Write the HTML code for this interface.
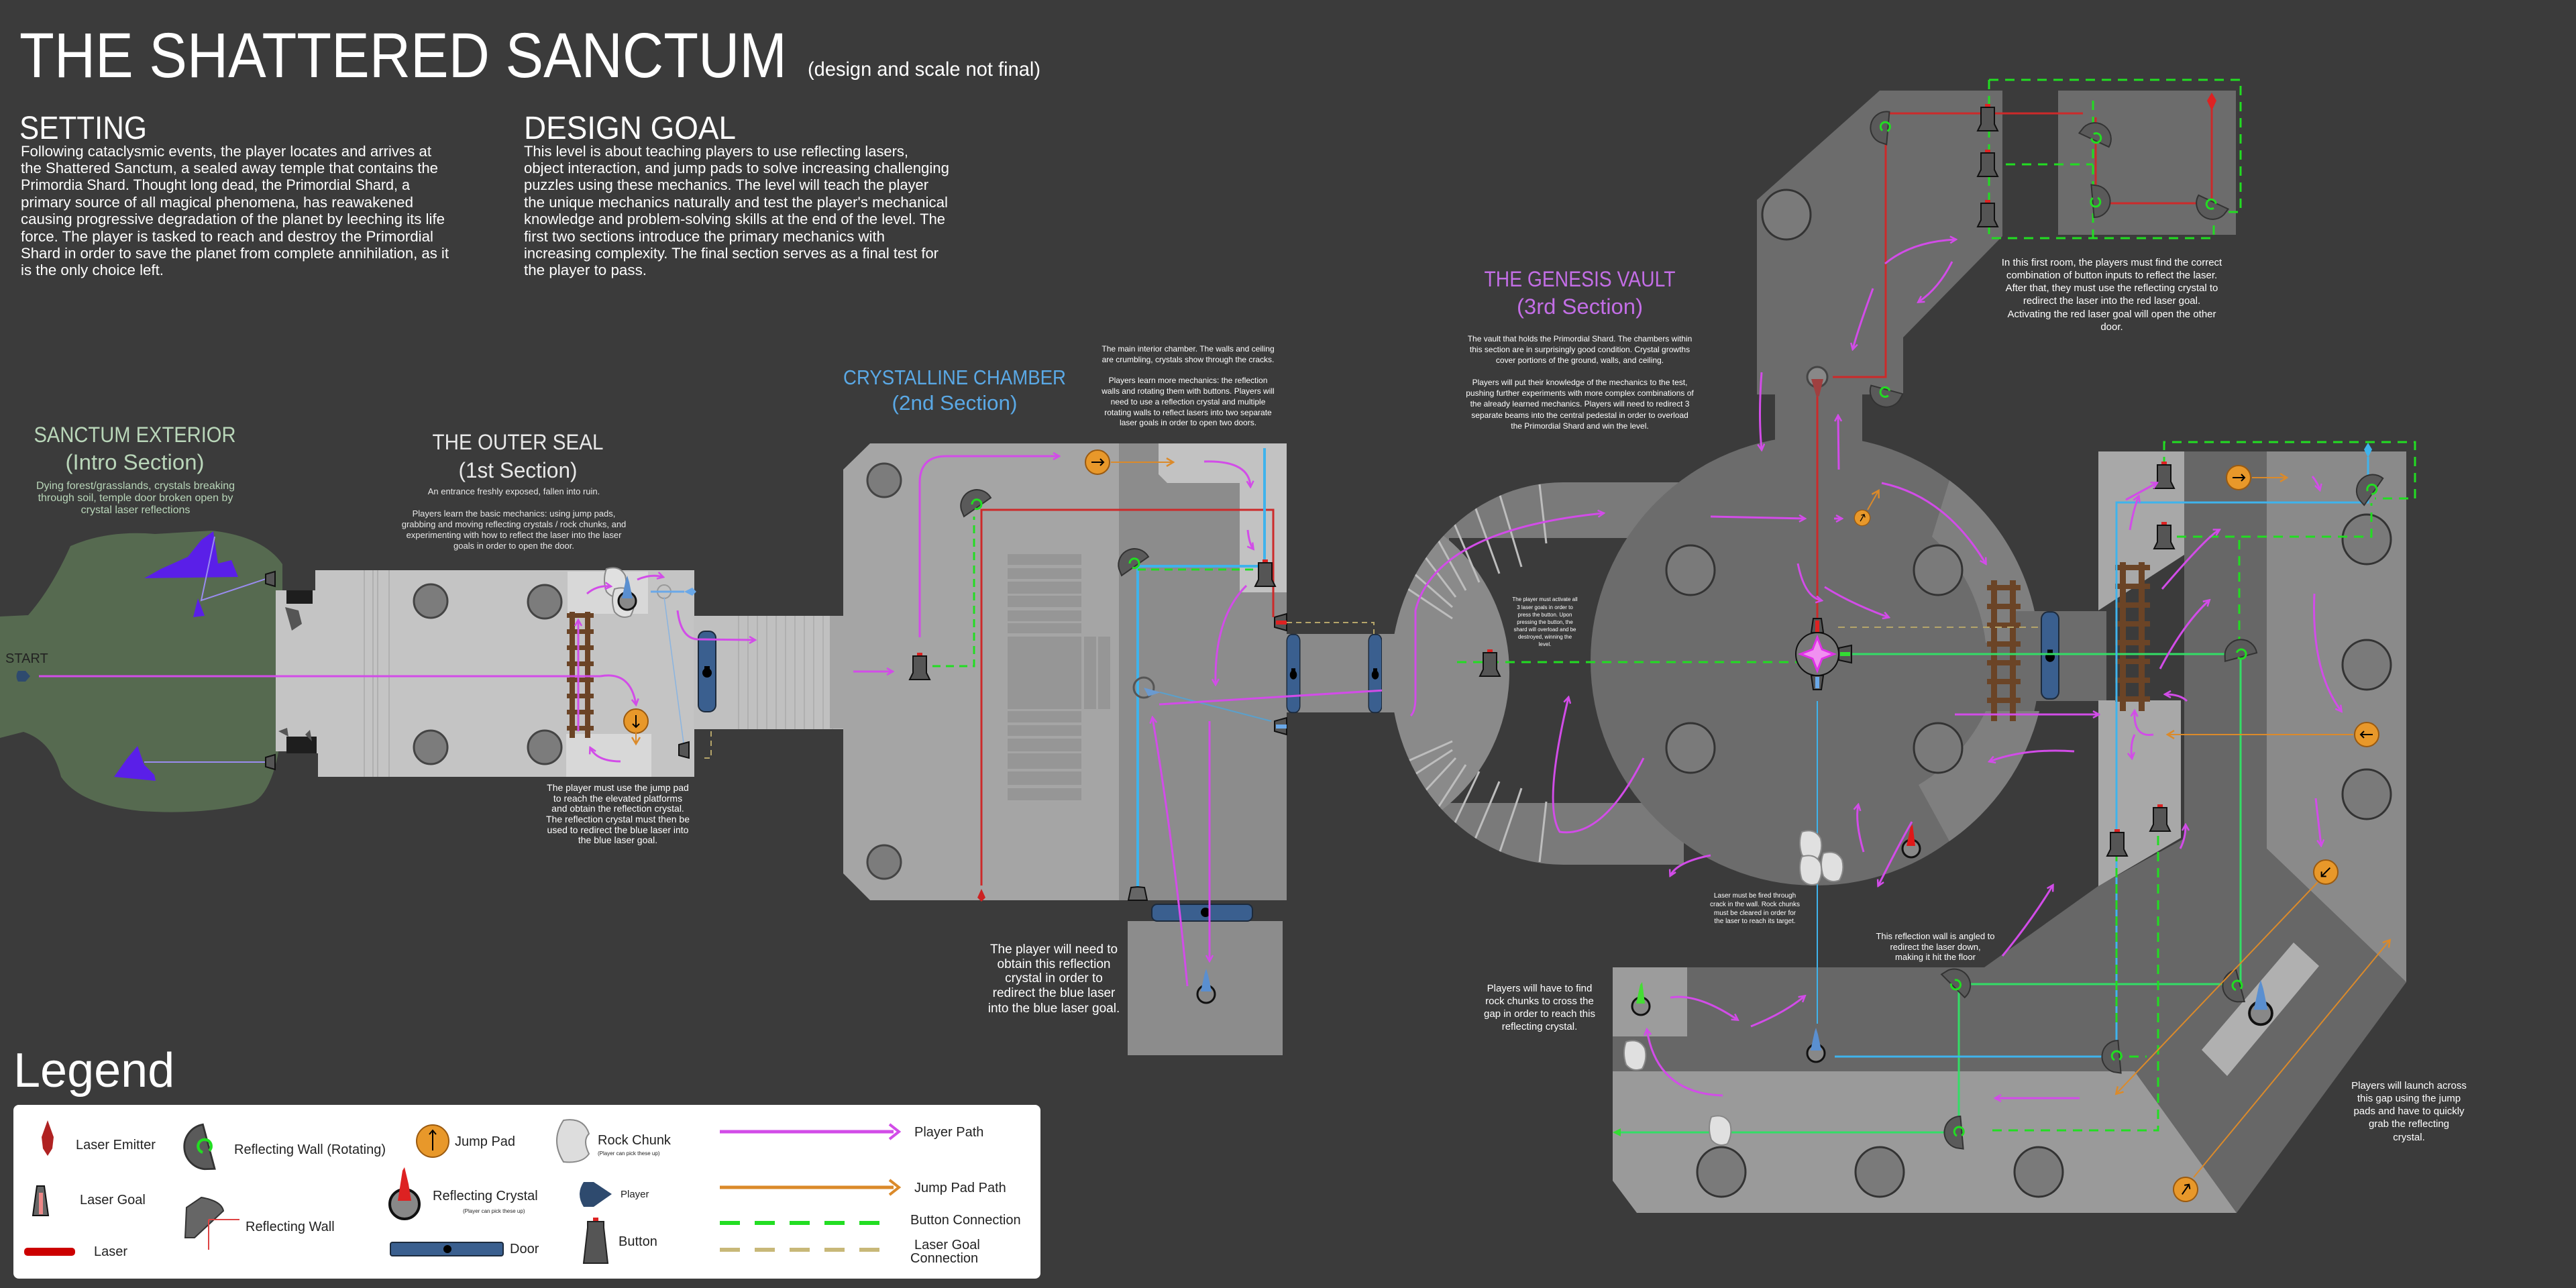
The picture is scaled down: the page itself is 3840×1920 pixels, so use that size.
<!DOCTYPE html>
<html><head><meta charset="utf-8">
<style>
html,body{margin:0;padding:0;background:#3b3b3b;}
svg{display:block;}
text{font-family:"Liberation Sans",sans-serif;}
</style></head>
<body>
<svg xmlns="http://www.w3.org/2000/svg" width="3840" height="1920" viewBox="0 0 3840 1920">
<defs>
<marker id="pa" markerWidth="12" markerHeight="12" refX="9" refY="6" orient="auto" markerUnits="userSpaceOnUse">
<path d="M1,1 L10,6 L1,11" fill="none" stroke="#d24ce8" stroke-width="2.5"/></marker>
<marker id="oa" markerWidth="14" markerHeight="14" refX="10" refY="7" orient="auto" markerUnits="userSpaceOnUse">
<path d="M1,1 L11,7 L1,13" fill="none" stroke="#db8a2a" stroke-width="2.5"/></marker>
<g id="btn"><rect x="-4" y="-22" width="8" height="5" fill="#d22"/><path d="M-10,-17 L10,-17 L10,8 L15,18 L-15,18 L-10,8 Z" fill="#555" stroke="#111" stroke-width="2"/></g>
<g id="door"><rect x="-13" y="-60" width="26" height="120" rx="10" fill="#3a5f8f" stroke="#1c2a3c" stroke-width="2"/><circle cx="0" cy="2" r="7" fill="#000"/><rect x="-4" y="-8" width="8" height="6" fill="#000"/></g>
<g id="jp"><circle r="18" fill="#e8982a" stroke="#9a5a10" stroke-width="2"/><path d="M-9,0 L9,0 M4,-5 L9,0 L4,5" stroke="#000" stroke-width="2" fill="none"/></g>
<g id="rw"><path d="M-22,8 A24,24 0 0 1 22,-10 L-18,18 Z" fill="#5a5a5a" stroke="#333" stroke-width="2"/><path d="M-6,0 a7,7 0 1 1 4,6" fill="none" stroke="#2d2" stroke-width="3"/></g>
<g id="rc"><circle cx="0" cy="8" r="13" fill="#888" stroke="#111" stroke-width="3"/><path d="M-8,4 L-2,-24 L0,-30 L3,-20 L8,4 Z" fill="#5a8fd0"/></g>
<g id="rock"><path d="M-14,-20 Q6,-26 14,-10 Q18,6 10,20 Q-4,26 -14,14 Q-20,-4 -14,-20 Z" fill="#e0e0e0" stroke="#888" stroke-width="2"/></g>
<g id="pil"><ellipse rx="25" ry="25" fill="#7c7c7c" stroke="#444" stroke-width="3"/></g>
<g id="pil2"><ellipse rx="36" ry="37" fill="#7a7a7a" stroke="#333" stroke-width="3"/></g>
<clipPath id="archclip"><path d="M2510,719 L2330,719 A257,285 0 0 0 2330,1289 L2510,1289 Z"/></clipPath>
</defs>

<rect width="3840" height="1920" fill="#3b3b3b"/>

<text x="29" y="115" font-size="95" fill="#fff" textLength="1144" lengthAdjust="spacingAndGlyphs">THE SHATTERED SANCTUM</text>
<text x="1204" y="113" font-size="30" fill="#fff" textLength="347" lengthAdjust="spacingAndGlyphs">(design and scale not final)</text>
<text x="29" y="207" font-size="48" fill="#fff" textLength="190" lengthAdjust="spacingAndGlyphs">SETTING</text>
<text x="781" y="207" font-size="48" fill="#fff" textLength="316" lengthAdjust="spacingAndGlyphs">DESIGN GOAL</text>
<g font-size="22" fill="#fff">
<text x="31" y="233" textLength="612" lengthAdjust="spacingAndGlyphs">Following cataclysmic events, the player locates and arrives at</text>
<text x="31" y="258" textLength="622" lengthAdjust="spacingAndGlyphs">the Shattered Sanctum, a sealed away temple that contains the</text>
<text x="31" y="283" textLength="580" lengthAdjust="spacingAndGlyphs">Primordia Shard. Thought long dead, the Primordial Shard, a</text>
<text x="31" y="309" textLength="585" lengthAdjust="spacingAndGlyphs">primary source of all magical phenomena, has reawakened</text>
<text x="31" y="334" textLength="632" lengthAdjust="spacingAndGlyphs">causing progressive degradation of the planet by leeching its life</text>
<text x="31" y="360" textLength="615" lengthAdjust="spacingAndGlyphs">force. The player is tasked to reach and destroy the Primordial</text>
<text x="31" y="385" textLength="638" lengthAdjust="spacingAndGlyphs">Shard in order to save the planet from complete annihilation, as it</text>
<text x="31" y="410" textLength="213" lengthAdjust="spacingAndGlyphs">is the only choice left.</text>
<text x="781" y="233" textLength="573" lengthAdjust="spacingAndGlyphs">This level is about teaching players to use reflecting lasers,</text>
<text x="781" y="258" textLength="634" lengthAdjust="spacingAndGlyphs">object interaction, and jump pads to solve increasing challenging</text>
<text x="781" y="283" textLength="603" lengthAdjust="spacingAndGlyphs">puzzles using these mechanics. The level will teach the player</text>
<text x="781" y="309" textLength="632" lengthAdjust="spacingAndGlyphs">the unique mechanics naturally and test the player's mechanical</text>
<text x="781" y="334" textLength="628" lengthAdjust="spacingAndGlyphs">knowledge and problem-solving skills at the end of the level. The</text>
<text x="781" y="360" textLength="538" lengthAdjust="spacingAndGlyphs">first two sections introduce the primary mechanics with</text>
<text x="781" y="385" textLength="618" lengthAdjust="spacingAndGlyphs">increasing complexity. The final section serves as a final test for</text>
<text x="781" y="410" textLength="183" lengthAdjust="spacingAndGlyphs">the player to pass.</text>
</g>

<g text-anchor="middle">
<text x="201" y="659" font-size="32" fill="#b9d6b9" textLength="301" lengthAdjust="spacingAndGlyphs">SANCTUM EXTERIOR</text>
<text x="201" y="700" font-size="32" fill="#b9d6b9" textLength="207" lengthAdjust="spacingAndGlyphs">(Intro Section)</text>
<g font-size="16" fill="#b9d6b9"><text x="202" y="729">Dying forest/grasslands, crystals breaking</text><text x="202" y="747">through soil, temple door broken open by</text><text x="202" y="765">crystal laser reflections</text></g>
<text x="772" y="670" font-size="32" fill="#e8e8e8" textLength="255" lengthAdjust="spacingAndGlyphs">THE OUTER SEAL</text>
<text x="772" y="712" font-size="32" fill="#e8e8e8" textLength="177" lengthAdjust="spacingAndGlyphs">(1st Section)</text>
<g font-size="13" fill="#e8e8e8"><text x="766" y="737">An entrance freshly exposed, fallen into ruin.</text>
<text x="766" y="770">Players learn the basic mechanics: using jump pads,</text><text x="766" y="786">grabbing and moving reflecting crystals / rock chunks, and</text><text x="766" y="802">experimenting with how to reflect the laser into the laser</text><text x="766" y="818">goals in order to open the door.</text></g>
<g font-size="14" fill="#fff"><text x="921" y="1179">The player must use the jump pad</text><text x="921" y="1195">to reach the elevated platforms</text><text x="921" y="1210">and obtain the reflection crystal.</text><text x="921" y="1226">The reflection crystal must then be</text><text x="921" y="1242">used to redirect the blue laser into</text><text x="921" y="1257">the blue laser goal.</text></g>
<text x="1423" y="573" font-size="31" fill="#5aa9e6" textLength="332" lengthAdjust="spacingAndGlyphs">CRYSTALLINE CHAMBER</text>
<text x="1423" y="611" font-size="31" fill="#5aa9e6" textLength="187" lengthAdjust="spacingAndGlyphs">(2nd Section)</text>
<g font-size="12" fill="#fff"><text x="1771" y="524">The main interior chamber. The walls and ceiling</text><text x="1771" y="540">are crumbling, crystals show through the cracks.</text><text x="1771" y="571">Players learn more mechanics: the reflection</text><text x="1771" y="587">walls and rotating them with buttons. Players will</text><text x="1771" y="603">need to use a reflection crystal and multiple</text><text x="1771" y="619">rotating walls to reflect lasers into two separate</text><text x="1771" y="634">laser goals in order to open two doors.</text></g>
<g font-size="19" fill="#fff"><text x="1571" y="1421">The player will need to</text><text x="1571" y="1443">obtain this reflection</text><text x="1571" y="1464">crystal in order to</text><text x="1571" y="1486">redirect the blue laser</text><text x="1571" y="1509">into the blue laser goal.</text></g>
<text x="2355" y="427" font-size="32" fill="#c36ee6" textLength="285" lengthAdjust="spacingAndGlyphs">THE GENESIS VAULT</text>
<text x="2355" y="468" font-size="32" fill="#c36ee6" textLength="188" lengthAdjust="spacingAndGlyphs">(3rd Section)</text>
<g font-size="12" fill="#fff"><text x="2355" y="509">The vault that holds the Primordial Shard. The chambers within</text><text x="2355" y="525">this section are in surprisingly good condition. Crystal growths</text><text x="2355" y="541">cover portions of the ground, walls, and ceiling.</text><text x="2355" y="574">Players will put their knowledge of the mechanics to the test,</text><text x="2355" y="590">pushing further experiments with more complex combinations of</text><text x="2355" y="606">the already learned mechanics. Players will need to redirect 3</text><text x="2355" y="623">separate beams into the central pedestal in order to overload</text><text x="2355" y="639">the Primordial Shard and win the level.</text></g>
<g font-size="15" fill="#fff"><text x="3148" y="396">In this first room, the players must find the correct</text><text x="3148" y="415">combination of button inputs to reflect the laser.</text><text x="3148" y="434">After that, they must use the reflecting crystal to</text><text x="3148" y="453">redirect the laser into the red laser goal.</text><text x="3148" y="473">Activating the red laser goal will open the other</text><text x="3148" y="492">door.</text></g>
</g>

<path d="M0,919 L42,917 Q77,877 105,814 Q160,790 231,796 L316,791 Q393,800 421,841 L421,1082 L414,1127 Q400,1190 372,1198 Q300,1215 210,1209 Q120,1200 91,1158 Q78,1105 35,1091 L0,1100 Z" fill="#566a50"/>
<g fill="#5a1fe8"><path d="M215,862 L240,848 L280,830 L300,805 L318,792 L325,840 L345,835 L355,860 Z"/><path d="M288,920 L295,892 L305,918 Z"/><path d="M170,1158 L190,1130 L205,1112 L215,1140 L230,1155 L232,1164 Z"/></g>
<path d="M320,800 L300,895 L405,860" fill="none" stroke="#9a8cf0" stroke-width="2"/>
<line x1="215" y1="1136" x2="405" y2="1136" stroke="#9a8cf0" stroke-width="2"/>
<text x="8" y="988" font-size="20" fill="#222">START</text>
<path d="M27,1000 L38,1000 L45,1008 L38,1016 L27,1016 Q22,1008 27,1000 Z" fill="#2e4a6e"/>

<rect x="411" y="880" width="60" height="240" fill="#c4c4c4"/>
<rect x="470" y="850" width="565" height="308" fill="#c4c4c4"/>
<rect x="422" y="850" width="48" height="30" fill="#3b3b3b"/><rect x="427" y="880" width="39" height="20" fill="#1e1e1e"/>
<rect x="422" y="1123" width="52" height="35" fill="#3b3b3b"/><rect x="427" y="1098" width="45" height="25" fill="#1e1e1e"/>
<g fill="#555"><path d="M425,905 L445,910 L450,930 L435,940 Z"/><path d="M415,1090 L428,1085 L430,1098 Z"/><path d="M455,1095 L462,1088 L465,1105 Z"/></g>
<g stroke="#b0b0b0" stroke-width="2"><line x1="543" y1="850" x2="543" y2="1158"/><line x1="556" y1="850" x2="556" y2="1158"/><line x1="563" y1="850" x2="563" y2="1158"/><line x1="580" y1="850" x2="580" y2="1158"/></g>
<rect x="846" y="852" width="120" height="63" fill="#d8d8d8"/><rect x="844" y="1094" width="127" height="64" fill="#d8d8d8"/>
<use href="#pil" x="642" y="896"/><use href="#pil" x="812" y="897"/><use href="#pil" x="642" y="1114"/><use href="#pil" x="812" y="1114"/>
<rect x="1034" y="918" width="223" height="169" fill="#c0c0c0"/>
<g stroke="#b0b0b0" stroke-width="2"><line x1="1101" y1="918" x2="1101" y2="1087"/><line x1="1115" y1="918" x2="1115" y2="1087"/><line x1="1129" y1="918" x2="1129" y2="1087"/><line x1="1143" y1="918" x2="1143" y2="1087"/><line x1="1157" y1="918" x2="1157" y2="1087"/><line x1="1171" y1="918" x2="1171" y2="1087"/><line x1="1185" y1="918" x2="1185" y2="1087"/><line x1="1199" y1="918" x2="1199" y2="1087"/><line x1="1213" y1="918" x2="1213" y2="1087"/><line x1="1227" y1="918" x2="1227" y2="1087"/><line x1="1241" y1="918" x2="1241" y2="1087"/></g>
<g fill="#6b4426"><rect x="849" y="912" width="8" height="188"/><rect x="872" y="912" width="8" height="188"/><rect x="845" y="914" width="40" height="7"/><rect x="845" y="938" width="40" height="7"/><rect x="845" y="962" width="40" height="7"/><rect x="845" y="986" width="40" height="7"/><rect x="845" y="1010" width="40" height="7"/><rect x="845" y="1034" width="40" height="7"/><rect x="845" y="1058" width="40" height="7"/><rect x="845" y="1082" width="40" height="7"/></g>
<use href="#door" x="1054" y="1001"/>
<use href="#rock" x="918" y="868"/><use href="#rock" x="930" y="898"/>
<use href="#rc" x="935" y="888"/>
<circle cx="990" cy="882" r="10" fill="none" stroke="#999" stroke-width="2"/>
<path d="M1020,882 L1032,876 L1038,882 L1032,888 Z" fill="#6aa8e8"/>
<line x1="970" y1="882" x2="1020" y2="882" stroke="#6aa8e8" stroke-width="3"/>
<line x1="990" y1="890" x2="1020" y2="1115" stroke="#8ab4e0" stroke-width="1.5"/>
<path d="M1027,1106 L1012,1110 L1012,1126 L1027,1130 Z" fill="#555" stroke="#111" stroke-width="2"/>
<path d="M410,852 L396,856 L396,870 L410,874 Z" fill="#555" stroke="#111" stroke-width="2"/>
<path d="M410,1125 L396,1129 L396,1143 L410,1147 Z" fill="#555" stroke="#111" stroke-width="2"/>
<use href="#jp" x="948" y="1075" transform="rotate(90 948 1075)"/>
<line x1="948" y1="1090" x2="948" y2="1108" stroke="#db8a2a" stroke-width="2" marker-end="url(#oa)"/>
<line x1="58" y1="1008" x2="895" y2="1008" stroke="#d24ce8" stroke-width="3"/>
<path d="M895,1008 Q940,1000 948,1050" fill="none" stroke="#d24ce8" stroke-width="3" marker-end="url(#pa)"/>
<line x1="862" y1="1090" x2="862" y2="925" stroke="#d24ce8" stroke-width="3" marker-end="url(#pa)"/>
<path d="M925,1135 Q890,1135 880,1115" fill="none" stroke="#d24ce8" stroke-width="3" marker-end="url(#pa)"/>
<path d="M875,885 Q890,872 910,874" fill="none" stroke="#d24ce8" stroke-width="3" marker-end="url(#pa)"/>
<path d="M950,864 Q970,855 988,860" fill="none" stroke="#d24ce8" stroke-width="3" marker-end="url(#pa)"/>
<path d="M1010,910 Q1015,952 1040,953 L1125,954" fill="none" stroke="#d24ce8" stroke-width="3" marker-end="url(#pa)"/>
<path d="M1050,1130 L1060,1130 L1060,1088" fill="none" stroke="#b5a56a" stroke-width="2" stroke-dasharray="8 6"/>

<rect x="1237" y="918" width="30" height="168" fill="#a5a5a5"/>
<path d="M1297,661 L1668,661 L1668,1342 L1297,1342 L1257,1302 L1257,700 Z" fill="#a5a5a5"/>
<rect x="1668" y="661" width="250" height="681" fill="#8c8c8c"/>
<path d="M1727,661 L1918,661 L1918,883 L1848,883 L1848,720 L1740,720 L1727,707 Z" fill="#c2c2c2"/>
<g fill="#969696"><rect x="1502" y="826" width="110" height="16"/><rect x="1502" y="847" width="110" height="16"/><rect x="1502" y="867" width="110" height="18"/><rect x="1502" y="888" width="110" height="17"/><rect x="1502" y="910" width="110" height="16"/><rect x="1502" y="929" width="110" height="15"/><rect x="1502" y="949" width="110" height="108"/><rect x="1616" y="949" width="18" height="108"/><rect x="1637" y="949" width="18" height="108"/><rect x="1502" y="1060" width="110" height="17"/><rect x="1502" y="1081" width="110" height="16"/><rect x="1502" y="1101" width="110" height="19"/><rect x="1502" y="1123" width="110" height="23"/><rect x="1502" y="1150" width="110" height="20"/><rect x="1502" y="1175" width="110" height="18"/></g>
<use href="#pil" x="1318" y="716"/><use href="#pil" x="1318" y="1285"/>
<rect x="1681" y="1373" width="231" height="200" fill="#8c8c8c"/>
<rect x="1668" y="1342" width="250" height="31" fill="#3b3b3b"/>
<rect x="1717" y="1348" width="150" height="25" rx="8" fill="#3a5f8f" stroke="#1c2a3c" stroke-width="2"/><circle cx="1797" cy="1360" r="7" fill="#000"/>
<rect x="1918" y="945" width="156" height="117" fill="#8a8a8a"/>
<use href="#door" x="1928" y="1004" transform="translate(1928 1004) scale(0.75 0.97) translate(-1928 -1004)"/>
<use href="#door" x="2050" y="1004" transform="translate(2050 1004) scale(0.75 0.97) translate(-2050 -1004)"/>
<path d="M1918,915 L1900,920 L1900,935 L1918,940 Z" fill="#555" stroke="#111" stroke-width="2"/><rect x="1902" y="925" width="16" height="6" fill="#d22"/>
<path d="M1918,1070 L1900,1075 L1900,1090 L1918,1095 Z" fill="#555" stroke="#111" stroke-width="2"/><rect x="1902" y="1080" width="16" height="6" fill="#6aa8e8"/>
<path d="M1918,928 L2048,928 L2048,945" fill="none" stroke="#b5a56a" stroke-width="2" stroke-dasharray="8 6"/>
<path d="M1463,1325 L1457,1338 L1463,1344 L1469,1338 Z" fill="#c22"/>
<polyline points="1463,1320 1463,760 1898,760 1898,920" fill="none" stroke="#cc2a2a" stroke-width="3"/>
<polyline points="1696,1322 1696,844 1885,844 1885,668" fill="none" stroke="#3fb3ec" stroke-width="4"/>
<line x1="1729" y1="1032" x2="1895" y2="1075" stroke="#5aa0cc" stroke-width="2"/>
<polyline points="1390,993 1452,993 1452,770" fill="none" stroke="#2d2" stroke-width="3" stroke-dasharray="12 8"/>
<line x1="1696" y1="849" x2="1870" y2="849" stroke="#2d2" stroke-width="3" stroke-dasharray="12 8"/>
<use href="#rw" x="1455" y="752"/><use href="#rw" x="1690" y="840"/>
<use href="#btn" x="1371" y="995"/><use href="#btn" x="1886" y="856"/>
<use href="#jp" x="1636" y="689"/>
<line x1="1656" y1="689" x2="1748" y2="689" stroke="#db8a2a" stroke-width="2" marker-end="url(#oa)"/>
<path d="M1686,1323 L1696,1322 L1706,1323 L1710,1342 L1682,1342 Z" fill="#666" stroke="#111" stroke-width="2"/>
<circle cx="1705" cy="1025" r="15" fill="none" stroke="#555" stroke-width="3"/><path d="M1705,1025 L1730,1032 L1712,1038 Z" fill="#6a9ad0"/>
<use href="#rc" x="1798" y="1474"/>
<line x1="1272" y1="1001" x2="1330" y2="1001" stroke="#d24ce8" stroke-width="3" marker-end="url(#pa)"/>
<path d="M1371,950 L1371,720 Q1371,680 1410,680 L1578,680" fill="none" stroke="#d24ce8" stroke-width="3" marker-end="url(#pa)"/>
<path d="M1795,688 Q1862,686 1864,725" fill="none" stroke="#d24ce8" stroke-width="3" marker-end="url(#pa)"/>
<path d="M1860,790 Q1862,810 1868,818" fill="none" stroke="#d24ce8" stroke-width="3" marker-end="url(#pa)"/>
<path d="M1858,873 Q1810,920 1812,1020" fill="none" stroke="#d24ce8" stroke-width="3" marker-end="url(#pa)"/>
<path d="M1728,1050 L2080,1028" fill="none" stroke="#d24ce8" stroke-width="3" marker-end="url(#pa)"/>
<path d="M1770,1470 Q1750,1260 1718,1070" fill="none" stroke="#d24ce8" stroke-width="3" marker-end="url(#pa)"/>
<line x1="1803" y1="1075" x2="1803" y2="1432" stroke="#d24ce8" stroke-width="3" marker-end="url(#pa)"/>

<path d="M2510,719 L2330,719 A257,285 0 0 0 2330,1289 L2510,1289 Z" fill="#7a7a7a"/>
<rect x="2060" y="945" width="20" height="117" fill="#8a8a8a"/>
<rect x="2160" y="802" width="290" height="395" fill="#3b3b3b"/>
<circle cx="1990" cy="1002" r="260" fill="#8a8a8a" clip-path="url(#archclip)"/>
<g clip-path="url(#archclip)" stroke="#bdbdbd" stroke-width="3">
<line x1="2235" y1="735" x2="2268" y2="845"/><line x1="2195" y1="745" x2="2235" y2="855"/><line x1="2160" y1="762" x2="2205" y2="868"/><line x1="2130" y1="780" x2="2185" y2="880"/><line x1="2105" y1="805" x2="2170" y2="890"/><line x1="2085" y1="835" x2="2165" y2="905"/><line x1="2075" y1="862" x2="2165" y2="922"/><line x1="2295" y1="722" x2="2305" y2="810"/>
<line x1="2235" y1="1272" x2="2268" y2="1175"/><line x1="2195" y1="1260" x2="2235" y2="1165"/><line x1="2160" y1="1245" x2="2205" y2="1150"/><line x1="2130" y1="1225" x2="2185" y2="1140"/><line x1="2105" y1="1200" x2="2170" y2="1130"/><line x1="2085" y1="1170" x2="2165" y2="1118"/><line x1="2075" y1="1145" x2="2165" y2="1105"/><line x1="2295" y1="1285" x2="2305" y2="1195"/>
</g>
<path d="M2802,135 L2985,135 L2985,352 L2837,503 L2837,588 L2619,588 L2619,298 Z" fill="#6c6c6c"/>
<rect x="2646" y="585" width="130" height="110" fill="#6c6c6c"/>
<rect x="3068" y="135" width="265" height="215" fill="#6c6c6c"/>
<use href="#pil2" x="2663" y="320"/>
<circle cx="2706" cy="985" r="335" fill="#6c6c6c"/>
<path d="M2906,716 A335,335 0 0 1 3040,958 L2960,958 A255,255 0 0 0 2880,800 Z" fill="#7f7f7f"/>
<path d="M3040,1060 A335,335 0 0 1 2906,1254 L2860,1170 A255,255 0 0 0 2960,1060 Z" fill="#7f7f7f"/>
<use href="#pil2" x="2520" y="850"/><use href="#pil2" x="2889" y="850"/><use href="#pil2" x="2520" y="1115"/><use href="#pil2" x="2889" y="1115"/>
<rect x="3000" y="911" width="140" height="134" fill="#6c6c6c"/>
<path d="M2404,1442 L2958,1442 L3129,1320 L3256,1250 L3256,673 L3379,673 L3379,1265 L3587,1464 L3334,1808 L3182,1597 L2404,1597 Z" fill="#676767"/>
<path d="M3128,673 L3256,673 L3256,827 L3128,910 Z" fill="#a8a8a8"/>
<path d="M3128,1044 L3251,1044 L3251,1249 L3128,1321 Z" fill="#a8a8a8"/>
<path d="M3379,673 L3587,673 L3587,1464 L3379,1265 Z" fill="#8a8a8a"/>
<path d="M3419,1405 L3457,1440 L3320,1604 L3282,1565 Z" fill="#b0b0b0"/>
<path d="M2404,1597 L3182,1597 L3334,1808 L2440,1808 L2404,1760 Z" fill="#9a9a9a"/>
<rect x="2404" y="1442" width="111" height="103" fill="#9c9c9c"/>
<use href="#pil2" x="3528" y="804"/>
<use href="#pil2" x="3528" y="991"/>
<use href="#pil2" x="3528" y="1184"/>
<use href="#pil2" x="2566" y="1747"/><use href="#pil2" x="2802" y="1747"/><use href="#pil2" x="3039" y="1747"/>
<g fill="#6b4426"><rect x="2968" y="865" width="9" height="210"/><rect x="2996" y="865" width="9" height="210"/><rect x="2962" y="872" width="50" height="8"/><rect x="2962" y="900" width="50" height="8"/><rect x="2962" y="928" width="50" height="8"/><rect x="2962" y="956" width="50" height="8"/><rect x="2962" y="984" width="50" height="8"/><rect x="2962" y="1012" width="50" height="8"/><rect x="2962" y="1040" width="50" height="8"/>
<rect x="3160" y="838" width="9" height="222"/><rect x="3188" y="838" width="9" height="222"/><rect x="3153" y="842" width="52" height="8"/><rect x="3153" y="870" width="52" height="8"/><rect x="3153" y="898" width="52" height="8"/><rect x="3153" y="926" width="52" height="8"/><rect x="3153" y="954" width="52" height="8"/><rect x="3153" y="982" width="52" height="8"/><rect x="3153" y="1010" width="52" height="8"/><rect x="3153" y="1038" width="52" height="8"/></g>
<use href="#door" x="3056" y="977" transform="translate(3056 977) scale(1 1.08) translate(-3056 -977)"/>
<polyline points="2732,562 2811,562 2811,169 3105,169" fill="none" stroke="#cc2a2a" stroke-width="3"/>
<polyline points="3124,175 3124,303 3297,303 3297,162" fill="none" stroke="#cc2a2a" stroke-width="3"/>
<line x1="2709" y1="560" x2="2709" y2="935" stroke="#cc2a2a" stroke-width="3"/>
<polyline points="2740,975 3340,975 3340,1467 2920,1467 2920,1688 2410,1688" fill="none" stroke="#33dd66" stroke-width="3"/>
<line x1="2709" y1="1045" x2="2709" y2="1526" stroke="#3fb3ec" stroke-width="2"/>
<polyline points="3530,681 3530,749 3155,749 3155,1575 2735,1575" fill="none" stroke="#3fb3ec" stroke-width="3"/>
<g fill="none" stroke="#2d2" stroke-width="3" stroke-dasharray="14 10">
<polyline points="2965,119 3340,119 3340,316 3300,316"/><polyline points="2965,119 2965,355 3300,355 3300,330"/><line x1="2990" y1="245" x2="3120" y2="245"/><line x1="3120" y1="150" x2="3120" y2="355"/>
<polyline points="3226,695 3226,659 3600,659 3600,743 3540,743"/><polyline points="3245,800 3535,800 3535,750"/><line x1="3338" y1="805" x2="3338" y2="960"/>
<line x1="2172" y1="987" x2="2688" y2="987"/>
<polyline points="3217,1246 3217,1685 2960,1685"/><line x1="3155" y1="1270" x2="3155" y2="1530"/><line x1="3150" y1="1575" x2="3200" y2="1575"/>
</g>
<line x1="2740" y1="935" x2="3040" y2="935" stroke="#b5a56a" stroke-width="2" stroke-dasharray="10 8"/>
<circle cx="2709" cy="975" r="32" fill="#777" stroke="#111" stroke-width="2"/>
<path d="M2709,950 L2716,968 L2734,975 L2716,982 L2709,1000 L2702,982 L2684,975 L2702,968 Z" fill="#f090f0" stroke="#e030e8" stroke-width="3"/>
<path d="M2700,943 L2703,922 L2715,922 L2718,943 Z" fill="#555" stroke="#111" stroke-width="2"/><rect x="2706" y="925" width="6" height="17" fill="#d22"/>
<path d="M2700,1007 L2703,1028 L2715,1028 L2718,1007 Z" fill="#555" stroke="#111" stroke-width="2"/><rect x="2706" y="1009" width="6" height="17" fill="#6aa8e8"/>
<path d="M2741,966 L2760,962 L2760,988 L2741,984 Z" fill="#555" stroke="#111" stroke-width="2"/><rect x="2743" y="972" width="15" height="6" fill="#3d3"/>
<use href="#rw" x="2810" y="190" transform="rotate(-50 2810 190)"/><use href="#rw" x="3124" y="205" transform="rotate(60 3124 205)"/><use href="#rw" x="3124" y="300" transform="rotate(120 3124 300)"/><use href="#rw" x="3297" y="305" transform="rotate(-120 3297 305)"/>
<use href="#rw" x="2811" y="585" transform="rotate(-130 2811 585)"/>
<use href="#rw" x="3535" y="730" transform="rotate(-20 3535 730)"/><use href="#rw" x="3340" y="975" transform="rotate(20 3340 975)"/><use href="#rw" x="3155" y="1575" transform="rotate(-60 3155 1575)"/><use href="#rw" x="2920" y="1688" transform="rotate(-60 2920 1688)"/><use href="#rw" x="2915" y="1467" transform="rotate(80 2915 1467)"/><use href="#rw" x="3335" y="1470" transform="rotate(-70 3335 1470)"/>
<path d="M3297,138 L3290,150 L3297,165 L3304,150 Z" fill="#d22"/>
<path d="M3530,660 L3524,670 L3530,682 L3536,670 Z" fill="#3fb3ec"/>
<circle cx="2709" cy="562" r="15" fill="#888" stroke="#444" stroke-width="3"/><path d="M2700,565 L2718,565 L2712,590 L2708,592 Z" fill="#a04040"/>
<use href="#btn" x="2963" y="177"/><use href="#btn" x="2963" y="245"/><use href="#btn" x="2963" y="320"/><use href="#btn" x="2221" y="990"/>
<use href="#btn" x="3226" y="710"/><use href="#btn" x="3226" y="800"/><use href="#btn" x="3220" y="1221"/><use href="#btn" x="3156" y="1258"/>
<use href="#jp" x="3337" y="712"/><line x1="3357" y1="712" x2="3408" y2="712" stroke="#db8a2a" stroke-width="2" marker-end="url(#oa)"/>
<use href="#jp" x="3528" y="1095" transform="rotate(180 3528 1095)"/><line x1="3508" y1="1095" x2="3232" y2="1095" stroke="#db8a2a" stroke-width="2" marker-end="url(#oa)"/>
<use href="#jp" x="3467" y="1300" transform="rotate(135 3467 1300)"/><line x1="3455" y1="1315" x2="3155" y2="1630" stroke="#db8a2a" stroke-width="2" marker-end="url(#oa)"/>
<use href="#jp" x="3258" y="1773" transform="rotate(-55 3258 1773)"/><line x1="3270" y1="1755" x2="3562" y2="1402" stroke="#db8a2a" stroke-width="2" marker-end="url(#oa)"/>
<g transform="translate(2776 772) scale(0.65)"><use href="#jp" transform="rotate(-60)"/></g><line x1="2784" y1="760" x2="2800" y2="732" stroke="#db8a2a" stroke-width="2" marker-end="url(#oa)"/>
<use href="#rock" x="2700" y="1260"/><use href="#rock" x="2700" y="1297"/><use href="#rock" x="2732" y="1292"/>
<g transform="translate(2849 1257)"><circle cx="0" cy="8" r="13" fill="#888" stroke="#111" stroke-width="3"/><path d="M-7,4 L-1,-24 L2,-28 L6,4 Z" fill="#e01818"/></g>
<g transform="translate(2446 1492)"><circle cx="0" cy="8" r="13" fill="#888" stroke="#111" stroke-width="3"/><path d="M-7,4 L-1,-24 L2,-28 L6,4 Z" fill="#44dd33"/></g>
<use href="#rc" x="2707" y="1562"/>
<use href="#rc" x="3370" y="1500" transform="translate(3370 1500) scale(1.3) translate(-3370 -1500)"/>
<use href="#rock" x="2438" y="1573"/><use href="#rock" x="2565" y="1685"/>
<path d="M2404,1688 L2416,1682 L2416,1694 Z" fill="#3d3"/>
<g fill="none" stroke="#d24ce8" stroke-width="3" marker-end="url(#pa)">
<path d="M2103,1067 Q2110,1060 2110,1040 L2110,910 Q2140,790 2390,765"/>
<path d="M2450,1130 Q2390,1250 2325,1240 Q2300,1200 2338,1040"/>
<path d="M2550,1275 Q2500,1285 2490,1305"/>
<path d="M2550,770 L2690,773"/><path d="M2734,773 L2745,773"/>
<path d="M2680,840 Q2690,890 2715,895"/><path d="M2720,875 Q2760,900 2815,920"/>
<path d="M2626,555 Q2621,620 2626,670"/><path d="M2741,700 L2740,620"/>
<path d="M2810,393 Q2850,360 2915,357"/><path d="M2910,390 Q2890,430 2860,450"/><path d="M2792,430 Q2770,490 2762,520"/>
<path d="M2805,720 Q2900,740 2960,840"/>
<path d="M2914,1065 L3128,1065"/><path d="M3092,1120 Q3020,1115 2966,1135"/>
<path d="M3175,790 Q3180,760 3188,740"/><path d="M3169,745 L3215,720"/>
<path d="M3223,878 Q3290,800 3308,790"/><path d="M3220,997 Q3255,930 3293,895"/>
<path d="M3260,1045 Q3250,1035 3228,1035"/><path d="M3210,1095 Q3180,1100 3182,1060"/><path d="M3182,1095 Q3175,1110 3178,1130"/>
<path d="M3250,1265 Q3258,1250 3258,1230"/>
<path d="M3450,885 Q3445,1000 3490,1060"/><path d="M3452,1190 Q3455,1215 3460,1260"/><path d="M3447,710 Q3455,720 3458,730"/>
<path d="M2850,1225 Q2830,1260 2800,1320"/><path d="M2778,1270 Q2765,1225 2770,1200"/>
<path d="M2985,1425 Q3030,1370 3060,1320"/>
<path d="M2490,1487 Q2530,1480 2590,1520"/><path d="M2610,1530 Q2660,1510 2690,1485"/>
<path d="M3100,1637 L2975,1637"/>
<path d="M2568,1633 Q2470,1630 2455,1535"/>
</g>
<g font-size="10" fill="#fff" text-anchor="middle"><text x="2616" y="1338">Laser must be fired through</text><text x="2616" y="1351">crack in the wall. Rock chunks</text><text x="2616" y="1364">must be cleared in order for</text><text x="2616" y="1376">the laser to reach its target.</text></g>
<g font-size="8" fill="#fff" text-anchor="middle"><text x="2303" y="896">The player must activate all</text><text x="2303" y="908">3 laser goals in order to</text><text x="2303" y="919">press the button. Upon</text><text x="2303" y="930">pressing the button, the</text><text x="2303" y="941">shard will overload and be</text><text x="2303" y="952">destroyed, winning the</text><text x="2303" y="963">level.</text></g>
<g font-size="13" fill="#fff" text-anchor="middle"><text x="2885" y="1400">This reflection wall is angled to</text><text x="2885" y="1416">redirect the laser down,</text><text x="2885" y="1431">making it hit the floor</text></g>
<g font-size="15" fill="#fff" text-anchor="middle"><text x="3591" y="1623">Players will launch across</text><text x="3591" y="1642">this gap using the jump</text><text x="3591" y="1661">pads and have to quickly</text><text x="3591" y="1680">grab the reflecting</text><text x="3591" y="1700">crystal.</text></g>
<g font-size="15" fill="#fff" text-anchor="middle"><text x="2295" y="1478">Players will have to find</text><text x="2295" y="1497">rock chunks to cross the</text><text x="2295" y="1516">gap in order to reach this</text><text x="2295" y="1535">reflecting crystal.</text></g>

<text x="20" y="1620" font-size="72" fill="#fff">Legend</text>
<rect x="20" y="1647" width="1531" height="259" rx="8" fill="#fff"/>
<g font-size="20" fill="#222">
<path d="M71,1670 L80,1695 L78,1712 L71,1723 L64,1712 L62,1695 Z" fill="#b02222"/>
<text x="113" y="1713">Laser Emitter</text>
<g transform="translate(305 1710) scale(1.4) rotate(-70)"><use href="#rw"/></g>
<text x="349" y="1720">Reflecting Wall (Rotating)</text>
<circle cx="645" cy="1701" r="24" fill="#e8982a" stroke="#9a5a10" stroke-width="2"/><path d="M645,1715 L645,1685 M640,1691 L645,1685 L650,1691" stroke="#000" stroke-width="2" fill="none"/>
<text x="678" y="1708">Jump Pad</text>
<path d="M840,1670 Q870,1665 878,1690 Q868,1700 878,1720 Q868,1735 840,1732 Q820,1700 840,1670 Z" fill="#ddd" stroke="#888" stroke-width="2"/>
<text x="891" y="1706">Rock Chunk</text><text x="891" y="1722" font-size="8">(Player can pick these up)</text>
<line x1="1073" y1="1687" x2="1332" y2="1687" stroke="#d24ce8" stroke-width="5"/><path d="M1326,1676 L1340,1687 L1326,1698" fill="none" stroke="#d24ce8" stroke-width="4"/>
<text x="1363" y="1694">Player Path</text>
<path d="M55,1768 L66,1768 L72,1812 L49,1812 Z" fill="#666" stroke="#111" stroke-width="2"/><rect x="58" y="1778" width="6" height="32" fill="#e88"/>
<text x="119" y="1795">Laser Goal</text>
<g transform="translate(603 1795)"><circle r="22" fill="#888" stroke="#111" stroke-width="4"/><path d="M-10,-5 L-3,-50 L0,-55 L6,-30 L10,-5 Z" fill="#d22"/></g>
<text x="645" y="1789">Reflecting Crystal</text><text x="690" y="1808" font-size="8">(Player can pick these up)</text>
<path d="M870,1762 L885,1762 L912,1780 L885,1799 L870,1799 Q858,1780 870,1762 Z" fill="#2e4a6e"/>
<text x="925" y="1785" font-size="15">Player</text>
<line x1="1073" y1="1770" x2="1332" y2="1770" stroke="#db8a2a" stroke-width="5"/><path d="M1326,1759 L1340,1770 L1326,1781" fill="none" stroke="#db8a2a" stroke-width="4"/>
<text x="1363" y="1777">Jump Pad Path</text>
<path d="M300,1785 Q330,1790 333,1805 L290,1845 L276,1845 L278,1800 Z" fill="#666" stroke="#333" stroke-width="2"/>
<line x1="311" y1="1818" x2="357" y2="1818" stroke="#d44" stroke-width="2"/><line x1="311" y1="1818" x2="311" y2="1863" stroke="#d44" stroke-width="2"/>
<text x="366" y="1835">Reflecting Wall</text>
<line x1="1073" y1="1823" x2="1325" y2="1823" stroke="#2d2" stroke-width="6" stroke-dasharray="30 22"/>
<text x="1357" y="1825">Button Connection</text>
<rect x="36" y="1860" width="76" height="12" rx="5" fill="#c00"/>
<text x="140" y="1872">Laser</text>
<rect x="582" y="1852" width="168" height="20" rx="3" fill="#3a5f8f" stroke="#1c2a3c" stroke-width="2"/><circle cx="667" cy="1862" r="6" fill="#000"/>
<text x="760" y="1868">Door</text>
<rect x="884" y="1815" width="8" height="6" fill="#d22"/><path d="M876,1821 L900,1821 L900,1830 L906,1883 L870,1883 L876,1830 Z" fill="#555" stroke="#222" stroke-width="2"/>
<text x="922" y="1857">Button</text>
<line x1="1073" y1="1863" x2="1325" y2="1863" stroke="#c8b878" stroke-width="6" stroke-dasharray="30 22"/>
<text x="1363" y="1862">Laser Goal</text><text x="1357" y="1882">Connection</text>
</g>
</svg>
</body></html>
